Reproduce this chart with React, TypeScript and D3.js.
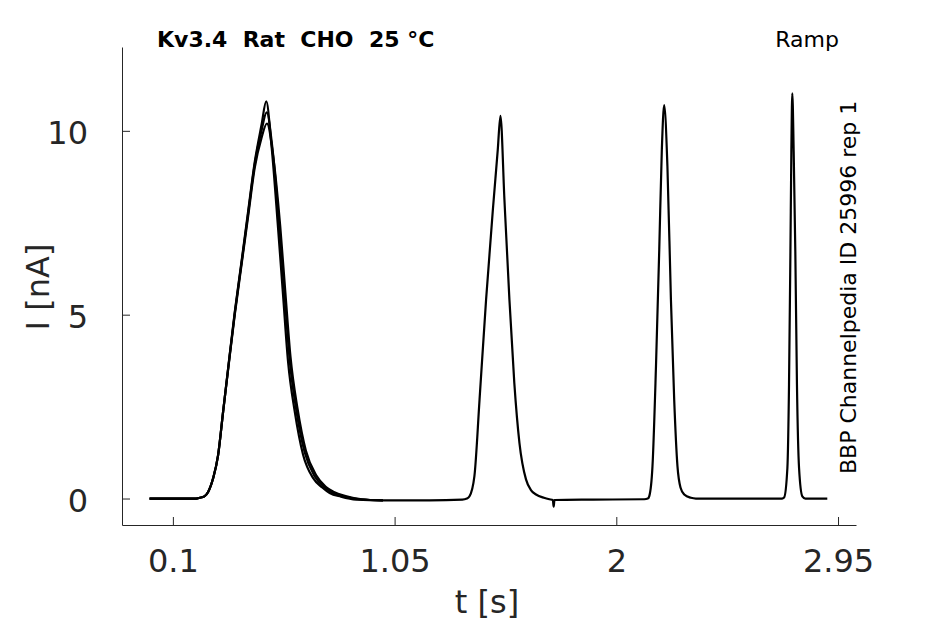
import * as d3 from "d3";
import { useEffect, useRef } from "react";

// time [s], current [nA] — main sweep
const sweepMain: [number, number][] = [
	[0.0, 0.0], [0.2, 0.0], [0.215, 0.02], [0.235, 0.06], [0.251, 0.18], [0.2724, 0.55],
	[0.2938, 1.18], [0.3152, 2.36], [0.3366, 3.54], [0.3653, 5.08], [0.394, 6.44], [0.4222, 7.8],
	[0.4509, 9.16], [0.4795, 10.15], [0.5, 10.8], [0.5223, 9.62], [0.5506, 7.36], [0.572, 5.54],
	[0.5934, 3.73], [0.622, 2.37], [0.6576, 1.2], [0.7003, 0.56], [0.74, 0.3], [0.7718, 0.15],
	[0.82, 0.05], [0.886, -0.03], [1.0, -0.05], [1.2, -0.05], [1.34, -0.03], [1.36, 0.0],
	[1.371, 0.06], [1.392, 0.61], [1.414, 2.69], [1.442, 5.41], [1.471, 7.85], [1.492, 9.48],
	[1.5035, 10.41], [1.5206, 8.13], [1.542, 5.41], [1.563, 3.14], [1.585, 1.51], [1.613, 0.52],
	[1.635, 0.22], [1.656, 0.11], [1.69, 0.02], [1.713, -0.02], [1.728, -0.04], [1.7316, -0.22],
	[1.735, -0.04], [1.9, -0.03], [2.12, -0.02], [2.135, 0.0], [2.141, 0.06], [2.155, 0.88],
	[2.17, 3.6], [2.184, 6.77], [2.195, 9.48], [2.205, 10.7], [2.219, 9.03], [2.234, 5.41],
	[2.248, 2.69], [2.262, 0.88], [2.275, 0.3], [2.291, 0.11], [2.32, 0.02], [2.341, 0.0],
	[2.71, 0.0], [2.719, 0.03], [2.733, 0.83], [2.74, 3.1], [2.746, 6.72], [2.75, 9.44],
	[2.754, 11.02], [2.76, 9.44], [2.767, 6.72], [2.774, 3.1], [2.783, 0.83], [2.797, 0.06],
	[2.81, 0.0], [2.904, 0.0],
];

// other sweeps differ only around the first ramp
const sweepB: [number, number][] = [
	[0.0, 0.0], [0.2, 0.0], [0.215, 0.02], [0.235, 0.06], [0.251, 0.18], [0.2724, 0.55],
	[0.2938, 1.18], [0.3152, 2.36], [0.3366, 3.52], [0.3653, 5.05], [0.394, 6.4], [0.4222, 7.74],
	[0.4509, 9.1], [0.4795, 10.0], [0.502, 10.5], [0.527, 9.5], [0.556, 7.4], [0.578, 5.6],
	[0.6, 3.8], [0.629, 2.4], [0.665, 1.25], [0.708, 0.6], [0.75, 0.3], [0.78, 0.17],
	[0.83, 0.06], [0.9, -0.02], [1.0, -0.05],
];

const sweepC: [number, number][] = [
	[0.0, 0.0], [0.2, 0.0], [0.215, 0.02], [0.235, 0.06], [0.251, 0.18], [0.2724, 0.55],
	[0.2938, 1.18], [0.3152, 2.36], [0.3366, 3.5], [0.3653, 5.0], [0.394, 6.35], [0.4222, 7.66],
	[0.4509, 9.0], [0.4795, 9.8], [0.503, 10.2], [0.53, 9.3], [0.56, 7.4], [0.582, 5.6],
	[0.604, 3.85], [0.634, 2.45], [0.67, 1.3], [0.714, 0.63], [0.755, 0.32], [0.79, 0.18],
	[0.84, 0.07], [0.91, -0.02], [1.0, -0.05],
];

const sweeps = [sweepC, sweepB, sweepMain];

const xTicks = [0.1, 1.05, 2, 2.95];
const yTicks = [0, 5, 10];

const FONT = "'DejaVu Sans', sans-serif";
const AXIS_COLOR = "#262626";

export default function App() {
	const svgRef = useRef<SVGSVGElement>(null);

	useEffect(() => {
		const svg = d3.select(svgRef.current);
		if (!svg.node()) return;
		svg.selectAll("*").remove();

		const x = d3.scaleLinear().domain([-0.118, 3.027]).range([122, 856]);
		const y = d3.scaleLinear().domain([-0.72, 12.28]).range([525, 47]);

		// traces
		const line = d3
			.line<[number, number]>()
			.x((d) => x(d[0]))
			.y((d) => y(d[1]))
			.curve(d3.curveMonotoneX);

		svg
			.append("g")
			.selectAll("path")
			.data(sweeps)
			.join("path")
			.attr("d", (d) => line(d))
			.attr("fill", "none")
			.attr("stroke", "#000")
			.attr("stroke-width", 2.2)
			.attr("stroke-linejoin", "round");

		// x axis
		const gx = svg
			.append("g")
			.attr("transform", `translate(0,${y(-0.72)})`)
			.call(
				d3
					.axisBottom(x)
					.tickValues(xTicks)
					.tickFormat((d) => String(d))
					.tickSizeInner(-8)
					.tickSizeOuter(0),
			);
		gx.select(".domain").attr("stroke", AXIS_COLOR);
		gx.selectAll(".tick line").attr("stroke", AXIS_COLOR);
		gx.selectAll(".tick text")
			.attr("y", 46.5)
			.attr("dy", null)
			.attr("fill", AXIS_COLOR)
			.style("font-family", FONT)
			.style("font-size", "32px");

		// y axis
		const gy = svg
			.append("g")
			.attr("transform", `translate(${x(-0.118)},0)`)
			.call(
				d3
					.axisLeft(y)
					.tickValues(yTicks)
					.tickFormat(d3.format("d"))
					.tickSizeInner(-8)
					.tickSizeOuter(0),
			);
		gy.select(".domain").attr("stroke", AXIS_COLOR);
		gy.selectAll(".tick line").attr("stroke", AXIS_COLOR);
		gy.selectAll(".tick text")
			.attr("x", -34)
			.attr("dy", "0.41em")
			.attr("fill", AXIS_COLOR)
			.style("font-family", FONT)
			.style("font-size", "32px");

		// axis labels
		svg
			.append("text")
			.attr("x", 487)
			.attr("y", 613)
			.attr("text-anchor", "middle")
			.attr("fill", AXIS_COLOR)
			.style("font-family", FONT)
			.style("font-size", "32px")
			.text("t [s]");

		svg
			.append("text")
			.attr("transform", "translate(49,287) rotate(-90)")
			.attr("text-anchor", "middle")
			.attr("fill", AXIS_COLOR)
			.style("font-family", FONT)
			.style("font-size", "32px")
			.text("I [nA]");

		// title and annotations
		svg
			.append("text")
			.attr("x", 157)
			.attr("y", 47)
			.attr("fill", "#000")
			.style("font-family", FONT)
			.style("font-weight", "bold")
			.style("font-size", "22px")
			.style("white-space", "pre")
			.text("Kv3.4  Rat  CHO  25 °C");

		svg
			.append("text")
			.attr("x", 839)
			.attr("y", 47)
			.attr("text-anchor", "end")
			.attr("fill", "#000")
			.style("font-family", FONT)
			.style("font-size", "22px")
			.text("Ramp");

		svg
			.append("text")
			.attr("transform", "translate(856,474) rotate(-90)")
			.attr("fill", "#000")
			.style("font-family", FONT)
			.style("font-size", "22px")
			.text("BBP Channelpedia ID 25996 rep 1");
	}, []);

	return (
		<svg
			ref={svgRef}
			width={945}
			height={624}
			style={{ position: "absolute", left: 0, top: 0, background: "#fff" }}
		/>
	);
}
